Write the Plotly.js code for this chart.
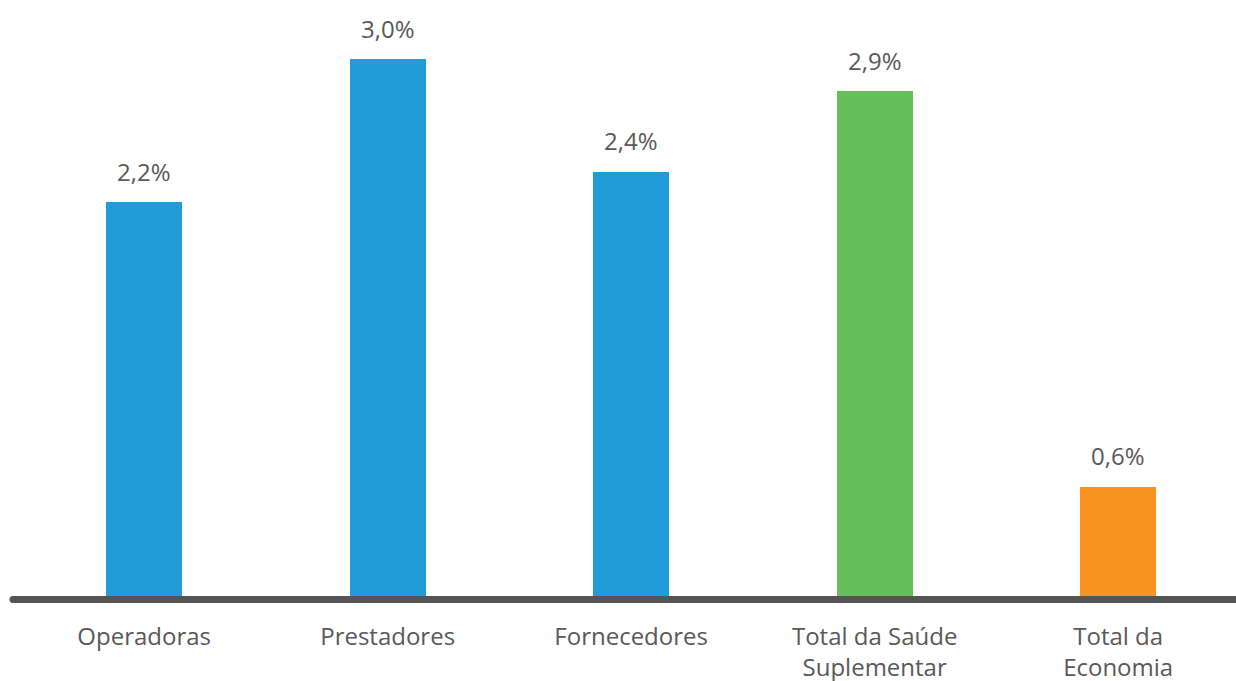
<!DOCTYPE html>
<html>
<head>
<meta charset="utf-8">
<script src="https://cdn.plot.ly/plotly-3.0.1.min.js"></script>
<style>html,body{margin:0;padding:0;background:#fff;}#chart{width:1236px;height:681px;}</style>
</head>
<body>
<div id="chart"></div>
<script>
var categories = ["Operadoras", "Prestadores", "Fornecedores", "Total da Saúde<br>Suplementar", "Total da<br>Economia"];
var values = [2.2, 3.0, 2.37, 2.82, 0.61];
var valueLabels = ["2,2%", "3,0%", "2,4%", "2,9%", "0,6%"];
var barColors = ["#209CD8", "#209CD8", "#209CD8", "#67BF5C", "#F7931E"];

var textColor = "#595959";
var fontFamily = "'Open Sans', sans-serif";

var trace = {
  type: "bar",
  x: categories,
  y: values,
  marker: {color: barColors},
  width: 0.312,
  hoverinfo: "none"
};

var annotations = categories.map(function (c, i) {
  return {
    x: c, y: values[i], xref: "x", yref: "y",
    text: valueLabels[i], showarrow: false,
    yanchor: "middle", yshift: 31,
    font: {family: fontFamily, size: 24, color: textColor}
  };
});

var layout = {
  width: 1236, height: 681,
  margin: {l: 0, r: 0, t: 0, b: 85, pad: 0},
  paper_bgcolor: "#fff", plot_bgcolor: "#fff",
  showlegend: false,
  bargap: 0,
  xaxis: {
    type: "category",
    range: [-0.592, 4.484],
    showgrid: false, zeroline: false, showline: false,
    ticks: "", ticklabelstandoff: 24,
    tickfont: {family: fontFamily, size: 24, color: textColor},
    fixedrange: true
  },
  yaxis: {
    range: [0, 3.3296],
    visible: false, showgrid: false, zeroline: false,
    fixedrange: true
  },
  annotations: annotations,
  shapes: [
    {
      type: "line", xref: "paper", yref: "paper",
      x0: 13 / 1236, x1: 1,
      ysizemode: "pixel", yanchor: 0, y0: -3.5, y1: -3.5,
      line: {color: "#545454", width: 7}
    },
    {
      type: "circle", xref: "paper", yref: "paper",
      xsizemode: "pixel", xanchor: 13 / 1236, x0: -3.5, x1: 3.5,
      ysizemode: "pixel", yanchor: 0, y0: -7, y1: 0,
      fillcolor: "#545454", line: {width: 0}
    }
  ]
};

Plotly.newPlot("chart", [trace], layout, {displayModeBar: false, staticPlot: true});
</script>
</body>
</html>
